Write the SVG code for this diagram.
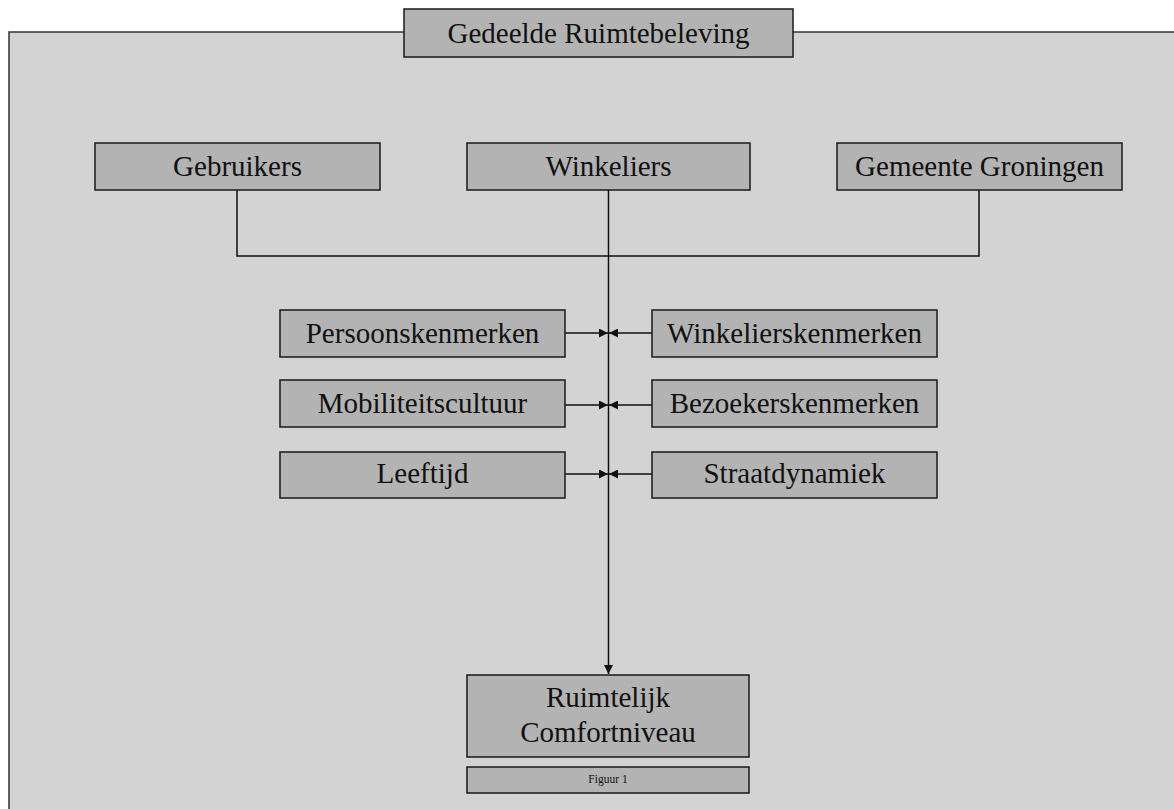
<svg xmlns="http://www.w3.org/2000/svg" width="1174" height="809" viewBox="0 0 1174 809">
<style>
.box{fill:#b3b3b3;stroke:#1a1a1a;stroke-width:1.5}
.t{font-family:"Liberation Serif","Times New Roman",serif;font-size:29px;fill:#111;text-anchor:middle}
.ln{stroke:#111;stroke-width:1.5;fill:none}
</style>
<defs>
<marker id="ah" viewBox="0 0 10 10" refX="10" refY="5" markerWidth="9" markerHeight="9" markerUnits="userSpaceOnUse" orient="auto">
<path d="M0,0 L10,5 L0,10 z" fill="#111"/>
</marker>
</defs>
<rect width="1174" height="809" fill="#ffffff"/>
<rect x="9" y="32" width="1180" height="800" fill="#d3d3d3" stroke="#333" stroke-width="1.5"/>
<g id="connectors">
<path class="ln" d="M237,190 V256 H979 V190"/>
<path class="ln" d="M608.5,190 V674" marker-end="url(#ah)"/>
<path class="ln" d="M565,333 H608" marker-end="url(#ah)"/>
<path class="ln" d="M652,333 H609" marker-end="url(#ah)"/>
<path class="ln" d="M565,405 H608" marker-end="url(#ah)"/>
<path class="ln" d="M652,405 H609" marker-end="url(#ah)"/>
<path class="ln" d="M565,474 H608" marker-end="url(#ah)"/>
<path class="ln" d="M652,474 H609" marker-end="url(#ah)"/>
</g>
<g id="title"><rect class="box" x="404" y="9" width="389" height="48"/><text class="t" x="598.5" y="43">Gedeelde Ruimtebeleving</text></g>
<g id="gebruikers"><rect class="box" x="95" y="143" width="285" height="47"/><text class="t" x="237.5" y="176">Gebruikers</text></g>
<g id="winkeliers"><rect class="box" x="467" y="143" width="283" height="47"/><text class="t" x="608.5" y="176">Winkeliers</text></g>
<g id="gemeente"><rect class="box" x="837" y="143" width="285" height="47"/><text class="t" x="979.5" y="176">Gemeente Groningen</text></g>
<g id="persoonskenmerken"><rect class="box" x="280" y="310" width="285" height="47"/><text class="t" x="422.5" y="343">Persoonskenmerken</text></g>
<g id="winkelierskenmerken"><rect class="box" x="652" y="310" width="285" height="47"/><text class="t" x="794.5" y="343">Winkelierskenmerken</text></g>
<g id="mobiliteitscultuur"><rect class="box" x="280" y="380" width="285" height="47"/><text class="t" x="422.5" y="413">Mobiliteitscultuur</text></g>
<g id="bezoekerskenmerken"><rect class="box" x="652" y="380" width="285" height="47"/><text class="t" x="794.5" y="413">Bezoekerskenmerken</text></g>
<g id="leeftijd"><rect class="box" x="280" y="452" width="285" height="46"/><text class="t" x="422.5" y="483">Leeftijd</text></g>
<g id="straatdynamiek"><rect class="box" x="652" y="452" width="285" height="46"/><text class="t" x="794.5" y="483">Straatdynamiek</text></g>
<g id="ruimtelijk"><rect class="box" x="467" y="675" width="282" height="82"/><text class="t" x="608" y="707">Ruimtelijk</text><text class="t" x="608" y="742">Comfortniveau</text></g>
<g id="figuur"><rect class="box" x="467" y="767" width="282" height="26"/><text class="t" x="608" y="783" style="font-size:11.5px">Figuur 1</text></g>
</svg>
